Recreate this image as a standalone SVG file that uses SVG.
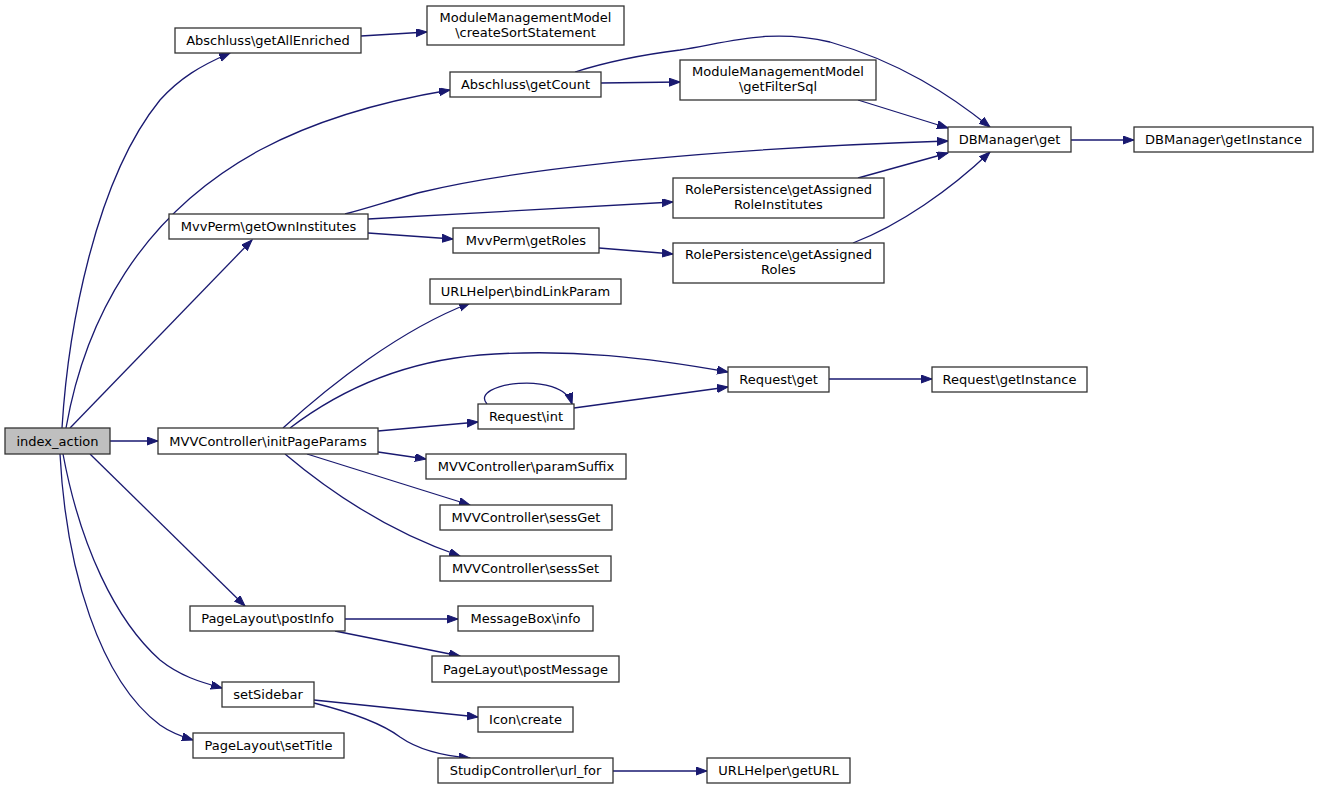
<svg xmlns="http://www.w3.org/2000/svg" width="1319" height="790" viewBox="0 0 1319 790">
<style>
.n rect{fill:#fff;stroke:#333;stroke-width:1.3}
.n.root rect{fill:#bfbfbf}
.n text{font-family:"DejaVu Sans",sans-serif;font-size:13px;fill:#000;text-anchor:middle}
.e path{fill:none;stroke:#191970;stroke-width:1.3}
</style>
<defs>
<marker id="a" markerUnits="userSpaceOnUse" markerWidth="12" markerHeight="10" refX="11" refY="4" orient="auto">
<path d="M0,0 L11,4 L0,8 z" fill="#191970" stroke="#191970" stroke-width="1"/>
</marker>
</defs>
<rect width="1319" height="790" fill="#fff"/>
<g id="connectors" class="e">
<path d="M62,428 C68,330 95,180 160,100 C180,78 200,66 230,53" marker-end="url(#a)"/>
<path d="M66,428 C85,320 140,215 260,150 C320,118 390,100 450,90" marker-end="url(#a)"/>
<path d="M70,428 L252,240" marker-end="url(#a)"/>
<path d="M110,441 L158,441" marker-end="url(#a)"/>
<path d="M90,454 L245,606" marker-end="url(#a)"/>
<path d="M63,454 C80,545 115,620 160,660 C180,676 200,682 222,688" marker-end="url(#a)"/>
<path d="M60,454 C66,570 100,680 160,725 C170,732 180,736 193,740" marker-end="url(#a)"/>
<path d="M361,36 L427,32" marker-end="url(#a)"/>
<path d="M601,83 L680,82" marker-end="url(#a)"/>
<path d="M575,72 C600,64 640,55 680,50 C730,42 770,28 830,42 C900,62 950,95 990,127" marker-end="url(#a)"/>
<path d="M858,100 L948,128" marker-end="url(#a)"/>
<path d="M345,214 C372,207 398,198 422,192 C530,166 730,148 948,141" marker-end="url(#a)"/>
<path d="M368,219 L673,202" marker-end="url(#a)"/>
<path d="M368,233 L453,239" marker-end="url(#a)"/>
<path d="M858,178 L948,153" marker-end="url(#a)"/>
<path d="M599,248 L673,254" marker-end="url(#a)"/>
<path d="M853,243 C900,225 950,190 990,152" marker-end="url(#a)"/>
<path d="M1071,140 L1134,140" marker-end="url(#a)"/>
<path d="M283,428 C330,385 400,330 470,303" marker-end="url(#a)"/>
<path d="M290,428 C340,390 400,362 480,355 C570,348 650,358 728,372" marker-end="url(#a)"/>
<path d="M378,431 L478,422" marker-end="url(#a)"/>
<path d="M487,404 C468,383 562,370 572,404" marker-end="url(#a)"/>
<path d="M574,408 L728,387" marker-end="url(#a)"/>
<path d="M829,379 L932,379" marker-end="url(#a)"/>
<path d="M378,452 L426,459" marker-end="url(#a)"/>
<path d="M307,454 L470,505" marker-end="url(#a)"/>
<path d="M285,454 C330,492 390,532 460,556" marker-end="url(#a)"/>
<path d="M345,619 L458,619" marker-end="url(#a)"/>
<path d="M335,631 L460,656" marker-end="url(#a)"/>
<path d="M314,700 L478,717" marker-end="url(#a)"/>
<path d="M314,703 C350,712 380,722 400,737 C420,751 445,756 470,758" marker-end="url(#a)"/>
<path d="M613,771 L707,771" marker-end="url(#a)"/>
</g>
<g id="n_index_action" class="n root"><rect x="5" y="428" width="105" height="26"/><text x="57.5" y="445.5">index_action</text></g>
<g id="n_initPageParams" class="n"><rect x="158" y="428" width="220" height="26"/><text x="268" y="445.5">MVVController\initPageParams</text></g>
<g id="n_getAllEnriched" class="n"><rect x="175" y="28" width="186" height="25"/><text x="268" y="45">Abschluss\getAllEnriched</text></g>
<g id="n_createSortStatement" class="n"><rect x="427" y="6" width="197" height="39"/><text x="525.5" y="21.5">ModuleManagementModel</text><text x="525.5" y="37">\createSortStatement</text></g>
<g id="n_getCount" class="n"><rect x="450" y="72" width="151" height="25"/><text x="525.5" y="89">Abschluss\getCount</text></g>
<g id="n_getFilterSql" class="n"><rect x="680" y="60" width="196" height="40"/><text x="778" y="76">ModuleManagementModel</text><text x="778" y="91">\getFilterSql</text></g>
<g id="n_DBManager_get" class="n"><rect x="948" y="127" width="123" height="25"/><text x="1009.5" y="144">DBManager\get</text></g>
<g id="n_DBManager_getInstance" class="n"><rect x="1134" y="127" width="179" height="25"/><text x="1223.5" y="144">DBManager\getInstance</text></g>
<g id="n_getOwnInstitutes" class="n"><rect x="169" y="214" width="199" height="25"/><text x="268.5" y="231">MvvPerm\getOwnInstitutes</text></g>
<g id="n_getAssignedRoleInstitutes" class="n"><rect x="673" y="178" width="211" height="40"/><text x="778.5" y="194">RolePersistence\getAssigned</text><text x="778.5" y="209">RoleInstitutes</text></g>
<g id="n_getRoles" class="n"><rect x="453" y="228" width="146" height="25"/><text x="526" y="245">MvvPerm\getRoles</text></g>
<g id="n_getAssignedRoles" class="n"><rect x="673" y="243" width="211" height="40"/><text x="778.5" y="259">RolePersistence\getAssigned</text><text x="778.5" y="274">Roles</text></g>
<g id="n_bindLinkParam" class="n"><rect x="430" y="279" width="191" height="25"/><text x="525.5" y="296">URLHelper\bindLinkParam</text></g>
<g id="n_Request_get" class="n"><rect x="728" y="367" width="101" height="25"/><text x="778.5" y="384">Request\get</text></g>
<g id="n_Request_getInstance" class="n"><rect x="932" y="367" width="155" height="25"/><text x="1009.5" y="384">Request\getInstance</text></g>
<g id="n_Request_int" class="n"><rect x="478" y="404" width="96" height="25"/><text x="526" y="421">Request\int</text></g>
<g id="n_paramSuffix" class="n"><rect x="426" y="454" width="200" height="25"/><text x="526" y="471">MVVController\paramSuffix</text></g>
<g id="n_sessGet" class="n"><rect x="440" y="505" width="172" height="25"/><text x="526" y="522">MVVController\sessGet</text></g>
<g id="n_sessSet" class="n"><rect x="440" y="556" width="171" height="25"/><text x="525.5" y="573">MVVController\sessSet</text></g>
<g id="n_postInfo" class="n"><rect x="190" y="606" width="155" height="25"/><text x="267.5" y="623">PageLayout\postInfo</text></g>
<g id="n_MessageBox_info" class="n"><rect x="458" y="606" width="135" height="25"/><text x="525.5" y="623">MessageBox\info</text></g>
<g id="n_postMessage" class="n"><rect x="432" y="656" width="187" height="26"/><text x="525.5" y="673.5">PageLayout\postMessage</text></g>
<g id="n_setSidebar" class="n"><rect x="222" y="682" width="92" height="25"/><text x="268" y="699">setSidebar</text></g>
<g id="n_Icon_create" class="n"><rect x="478" y="707" width="95" height="25"/><text x="525.5" y="724">Icon\create</text></g>
<g id="n_setTitle" class="n"><rect x="193" y="733" width="151" height="25"/><text x="268.5" y="750">PageLayout\setTitle</text></g>
<g id="n_url_for" class="n"><rect x="438" y="758" width="175" height="25"/><text x="525.5" y="775">StudipController\url_for</text></g>
<g id="n_getURL" class="n"><rect x="707" y="758" width="143" height="25"/><text x="778.5" y="775">URLHelper\getURL</text></g>
</svg>
